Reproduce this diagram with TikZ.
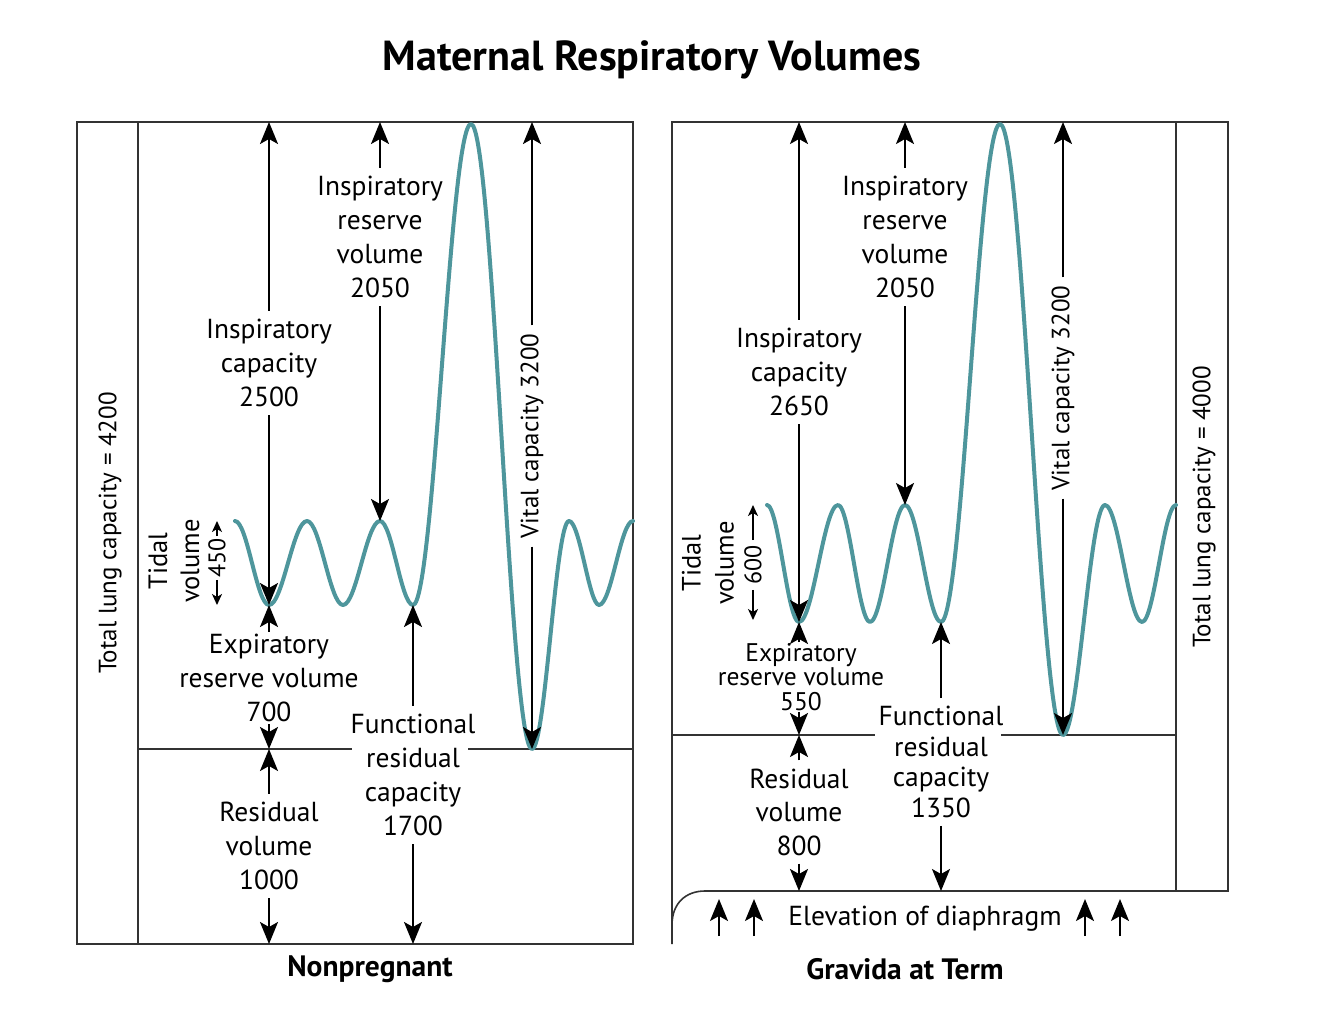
\documentclass[tikz,border=0pt]{standalone}
\usepackage{fontspec}
\setmainfont{PT Sans}
\usetikzlibrary{arrows.meta}
\definecolor{wavecol}{RGB}{78,150,156}
\tikzset{
  bighead/.tip={Stealth[length=22pt,width=18pt,inset=5pt]},
  smallhead/.tip={Stealth[length=11pt,width=10pt,inset=3pt]}}
\begin{document}
\begin{tikzpicture}[x=1pt,y=-1pt,
  box/.style={line width=1.6pt, draw=black!80},
  arr/.style={line width=1.9pt, -bighead},
  sarr/.style={line width=1.6pt, -smallhead},
  lbl/.style={font=\fontsize{27.5}{34}\selectfont, align=center, inner xsep=3pt, inner ysep=8pt},
  rlbl/.style={font=\fontsize{25}{30}\selectfont, rotate=90, inner xsep=8pt, inner ysep=3pt},
  wave/.style={line width=4pt, draw=wavecol, line cap=round, line join=round}]
\fill[white] (0,0) rectangle (1334,1014);
\useasboundingbox (0,0) rectangle (1334,1014);

% title
\node[font=\bfseries\fontsize{42}{46}\selectfont] (title) at (652,60) {Maternal Respiratory Volumes};
\node[font=\bfseries\fontsize{29.5}{32}\selectfont] (capL) at (370,969) {Nonpregnant};
\node[font=\bfseries\fontsize{29.5}{32}\selectfont] (capR) at (905,969) {Gravida at Term};

% ---------------- left panel ----------------
\draw[box] (77,122) rectangle (633,944);
\draw[box] (138,122) -- (138,944);
\draw[box] (138,749) -- (352,749);
\draw[box] (468,749) -- (633,749);

\draw[wave] (235,521)
  .. controls (247.4,521) and (256.6,605) .. (269,605)
  .. controls (282.8,605) and (293.2,521) .. (307,521)
  .. controls (320.1,521) and (329.9,605) .. (343,605)
  .. controls (356.5,605) and (366.5,521) .. (380,521)
  .. controls (392,521) and (401,605) .. (413,605)
  .. controls (434.1,605) and (449.9,124) .. (471,124)
  .. controls (493.2,124) and (509.8,749) .. (532,749)
  .. controls (545.5,749) and (555.5,521) .. (569,521)
  .. controls (579.9,521) and (589.1,605) .. (599,605)
  .. controls (611.4,605) and (620.6,521) .. (633,521);

\coordinate (LicTop) at (269,122);
\coordinate (Lt1) at (269,605);
\coordinate (Lp4) at (380,521);
\coordinate (LirvTop) at (380,122);
\coordinate (Lt5) at (413,605);
\coordinate (Lt7) at (532,749);
\coordinate (LvcTop) at (532,122);
\coordinate (Lbase) at (269,749);
\coordinate (Lbot1) at (269,944);
\coordinate (Lbot2) at (413,944);
\coordinate (LtvTop) at (217,521);
\coordinate (LtvBot) at (217,605);

\node[lbl] (Lirv) at (380,237) {Inspiratory\\reserve\\volume\\2050};
\node[lbl] (Lic) at (269,363) {Inspiratory\\capacity\\2500};
\node[rlbl] (Lvc) at (532,436) {Vital capacity 3200};
\node[lbl, inner ysep=2pt] (Lerv) at (269,678) {Expiratory\\reserve volume\\700};
\node[lbl] (Lrv) at (269,846) {Residual\\volume\\1000};
\node[lbl] (Lfrc) at (413,775) {Functional\\residual\\capacity\\1700};
\node[rlbl] (Ltlc) at (110,533) {Total lung capacity = 4200};
\node[lbl, rotate=90, inner ysep=2pt, font=\fontsize{26.5}{32}\selectfont] (Ltv) at (174,561) {Tidal\\volume};
\node[lbl, rotate=90, inner xsep=2pt, inner ysep=2pt, font=\fontsize{24}{28}\selectfont] (L450) at (217,558) {450};

\draw[arr] (Lirv.north) -- (LirvTop);
\draw[arr] (Lirv.south) -- (Lp4);
\draw[arr] (Lic.north) -- (LicTop);
\draw[arr] (Lic.south) -- (Lt1);
\draw[arr] (Lvc.east) -- (LvcTop);
\draw[arr] (Lvc.west) -- (Lt7);
\draw[arr] (Lerv.north) -- (Lt1);
\draw[arr] (Lerv.south) -- (Lbase);
\draw[arr] (Lrv.north) -- (Lbase);
\draw[arr] (Lrv.south) -- (Lbot1);
\draw[arr] (Lfrc.north) -- (Lt5);
\draw[arr] (Lfrc.south) -- (Lbot2);
\draw[sarr] (L450.east) -- (LtvTop);
\draw[sarr] (L450.west) -- (LtvBot);

% ---------------- right panel ----------------
\draw[box] (672,944) -- (672,122) -- (1228,122) -- (1228,891) -- (705,891)
  .. controls (686,891) and (672,903) .. (672,925);
\draw[box] (1176,122) -- (1176,891);
\draw[box] (672,735) -- (875,735);
\draw[box] (1001,735) -- (1176,735);

\draw[wave] (767,505)
  .. controls (778.6,505) and (787.4,622) .. (799,622)
  .. controls (813.2,622) and (823.8,505) .. (838,505)
  .. controls (849.6,505) and (858.4,622) .. (870,622)
  .. controls (882.7,622) and (892.3,505) .. (905,505)
  .. controls (918.1,505) and (927.9,622) .. (941,622)
  .. controls (962.5,622) and (978.5,124) .. (1000,124)
  .. controls (1022.9,124) and (1040.1,735) .. (1063,735)
  .. controls (1078.3,735) and (1089.7,505) .. (1105,505)
  .. controls (1118.5,505) and (1128.5,622) .. (1142,622)
  .. controls (1154.4,622) and (1163.6,505) .. (1176,505);

\coordinate (RicTop) at (799,122);
\coordinate (Rt1) at (799,622);
\coordinate (Rp4) at (905,505);
\coordinate (RirvTop) at (905,122);
\coordinate (Rt5) at (941,622);
\coordinate (Rt7) at (1063,735);
\coordinate (RvcTop) at (1063,122);
\coordinate (Rbase) at (799,735);
\coordinate (Rbot1) at (799,891);
\coordinate (Rbot2) at (941,891);
\coordinate (RtvTop) at (753,505);
\coordinate (RtvBot) at (753,620);

\node[lbl] (Rirv) at (905,237) {Inspiratory\\reserve\\volume\\2050};
\node[lbl] (Ric) at (799,372) {Inspiratory\\capacity\\2650};
\node[rlbl] (Rvc) at (1063,388) {Vital capacity 3200};
\node[lbl, inner ysep=1pt, font=\fontsize{25.5}{24.5}\selectfont] (Rerv) at (801,677) {Expiratory\\reserve volume\\550};
\node[lbl, font=\fontsize{27.5}{33.5}\selectfont] (Rrv) at (799,812) {Residual\\volume\\800};
\node[lbl, font=\fontsize{27.5}{30.5}\selectfont] (Rfrc) at (941,762) {Functional\\residual\\capacity\\1350};
\node[rlbl] (Rtlc) at (1204,507) {Total lung capacity = 4000};
\node[lbl, rotate=90, inner ysep=2pt, font=\fontsize{26.5}{33}\selectfont] (Rtv) at (708,563) {Tidal\\volume};
\node[lbl, rotate=90, inner xsep=5pt, inner ysep=2pt, font=\fontsize{24}{28}\selectfont] (R600) at (753,565) {600};

\draw[arr] (Rirv.north) -- (RirvTop);
\draw[arr] (Rirv.south) -- (Rp4);
\draw[arr] (Ric.north) -- (RicTop);
\draw[arr] (Ric.south) -- (Rt1);
\draw[arr] (Rvc.east) -- (RvcTop);
\draw[arr] (Rvc.west) -- (Rt7);
\draw[arr] (Rerv.north -| Rt1) -- (Rt1);
\draw[arr] (Rerv.south -| Rbase) -- (Rbase);
\draw[arr] (Rrv.north) -- (Rbase);
\draw[arr] (Rrv.south) -- (Rbot1);
\draw[arr] (Rfrc.north) -- (Rt5);
\draw[arr] (Rfrc.south) -- (Rbot2);
\draw[sarr] (R600.east) -- (RtvTop);
\draw[sarr] (R600.west) -- (RtvBot);

\node[font=\fontsize{27.5}{30}\selectfont] (elev) at (925,919) {Elevation of diaphragm};
\foreach \i/\x in {1/719,2/754,3/1085,4/1120}{
  \coordinate (e\i a) at (\x,936);
  \coordinate (e\i b) at (\x,899);
  \draw[arr] (e\i a) -- (e\i b);
}
\end{tikzpicture}
\end{document}
